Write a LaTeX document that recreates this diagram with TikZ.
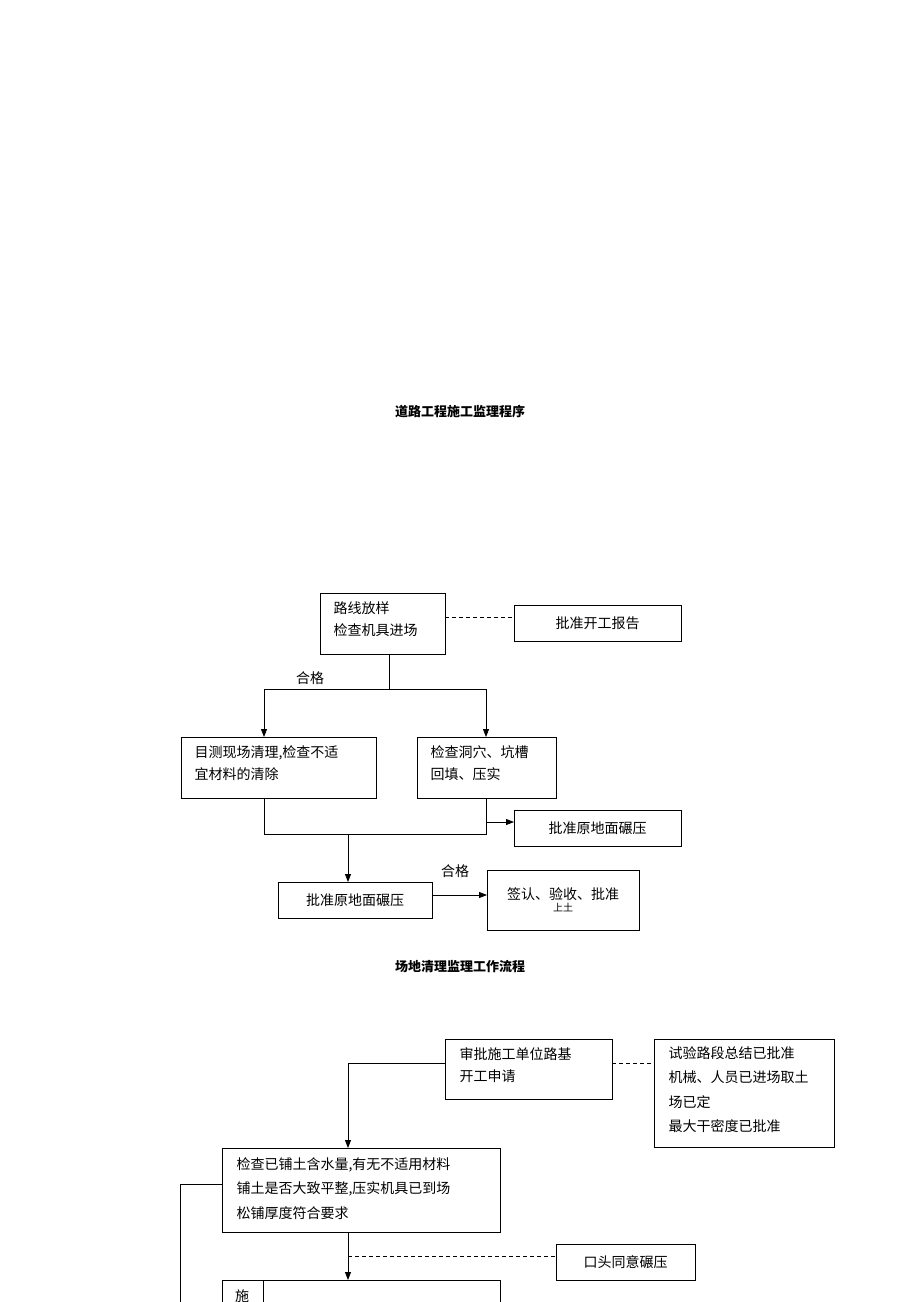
\documentclass[tikz,border=0pt]{standalone}
\usepackage{fontspec}
\setmainfont{Noto Sans CJK SC}
\usetikzlibrary{arrows.meta}
\begin{document}
\begin{tikzpicture}[x=1pt,y=-1pt,
  bx/.style={draw,line width=0.8pt,inner sep=0pt},
  tx/.style={font=\fontsize{14}{22}\selectfont,align=left,anchor=north west},
  ln/.style={line width=0.8pt},
  ar/.style={line width=0.8pt,-{Triangle[length=8pt,width=6pt]}},
  ds/.style={line width=0.8pt,dashed,dash pattern=on 4pt off 3pt},
  ttl/.style={font=\fontsize{13}{15}\selectfont\bfseries}]
\useasboundingbox (0,0) rectangle (920,1302);
\clip (0,0) rectangle (920,1302);
\node[ttl] (t1) at (460,412) {道路工程施工监理程序};
\node[ttl] (t2) at (460,967) {场地清理监理工作流程};
% top flow
\draw[ln] (320,593) rectangle (445,654);
\node[tx] (A) at (330,598) {路线放样\\检查机具进场};
\draw[ln] (514,605) rectangle (681,641);
\node (B) at (597.5,623) {\fontsize{14}{16}\selectfont 批准开工报告};
\draw[ds] (445,617) -- (514,617);
\draw[ln] (389,654) -- (389,689);
\draw[ln] (264,689) -- (486,689);
\draw[ar] (264,689) -- (264,737);
\draw[ar] (486,689) -- (486,737);
\node (q1) at (310,678) {\fontsize{14}{16}\selectfont 合格};
\draw[ln] (181,737) rectangle (376,798);
\node[tx] (C) at (191,742) {目测现场清理,检查不适\\宜材料的清除};
\draw[ln] (417,737) rectangle (556,798);
\node[tx] (D) at (427,742) {检查洞穴、坑槽\\回填、压实};
\draw[ln] (514,810) rectangle (681,846);
\node (E) at (597.5,828) {\fontsize{14}{16}\selectfont 批准原地面碾压};
\draw[ar] (486,822) -- (514,822);
\draw[ln] (264,798) -- (264,834) -- (486,834) -- (486,798);
\draw[ar] (348,834) -- (348,882);
\draw[ln] (278,882) rectangle (432,918);
\node (F) at (355,900) {\fontsize{14}{16}\selectfont 批准原地面碾压};
\draw[ln] (487,870) rectangle (639,930);
\node[align=center] (G) at (563,900) {\fontsize{14}{22}\selectfont 签认、验收、批准\\上土};
\draw[ar] (432,895) -- (487,895);
\node (q2) at (455,871) {\fontsize{14}{16}\selectfont 合格};
% bottom flow
\draw[ln] (445,1039) rectangle (612,1099);
\node[tx] (H) at (456,1044) {审批施工单位路基\\开工申请};
\draw[ln] (654,1039) rectangle (834,1147);
\node[tx,font=\fontsize{14}{24.5}\selectfont] (I) at (665,1043) {试验路段总结已批准\\机械、人员已进场取土\\场已定\\最大干密度已批准};
\draw[ds] (612,1063) -- (654,1063);
\draw[ln] (445,1063) -- (348,1063);
\draw[ar] (348,1063) -- (348,1148);
\draw[ln] (222,1148) rectangle (500,1232);
\node[tx,font=\fontsize{14}{24.5}\selectfont] (J) at (233,1154) {检查已铺土含水量,有无不适用材料\\铺土是否大致平整,压实机具已到场\\松铺厚度符合要求};
\draw[ln] (222,1184) -- (180,1184) -- (180,1310);
\draw[ar] (348,1232) -- (348,1280);
\draw[ds] (348,1256) -- (556,1256);
\draw[ln] (556,1244) rectangle (695,1280);
\node (K) at (625.5,1262) {\fontsize{14}{16}\selectfont 口头同意碾压};
\draw[ln] (222,1320) -- (222,1280) -- (500,1280) -- (500,1320);
\draw[ln] (263,1280) -- (263,1320);
\node[anchor=north] (L) at (242,1286) {\fontsize{14}{16}\selectfont 施};
\end{tikzpicture}
\end{document}
